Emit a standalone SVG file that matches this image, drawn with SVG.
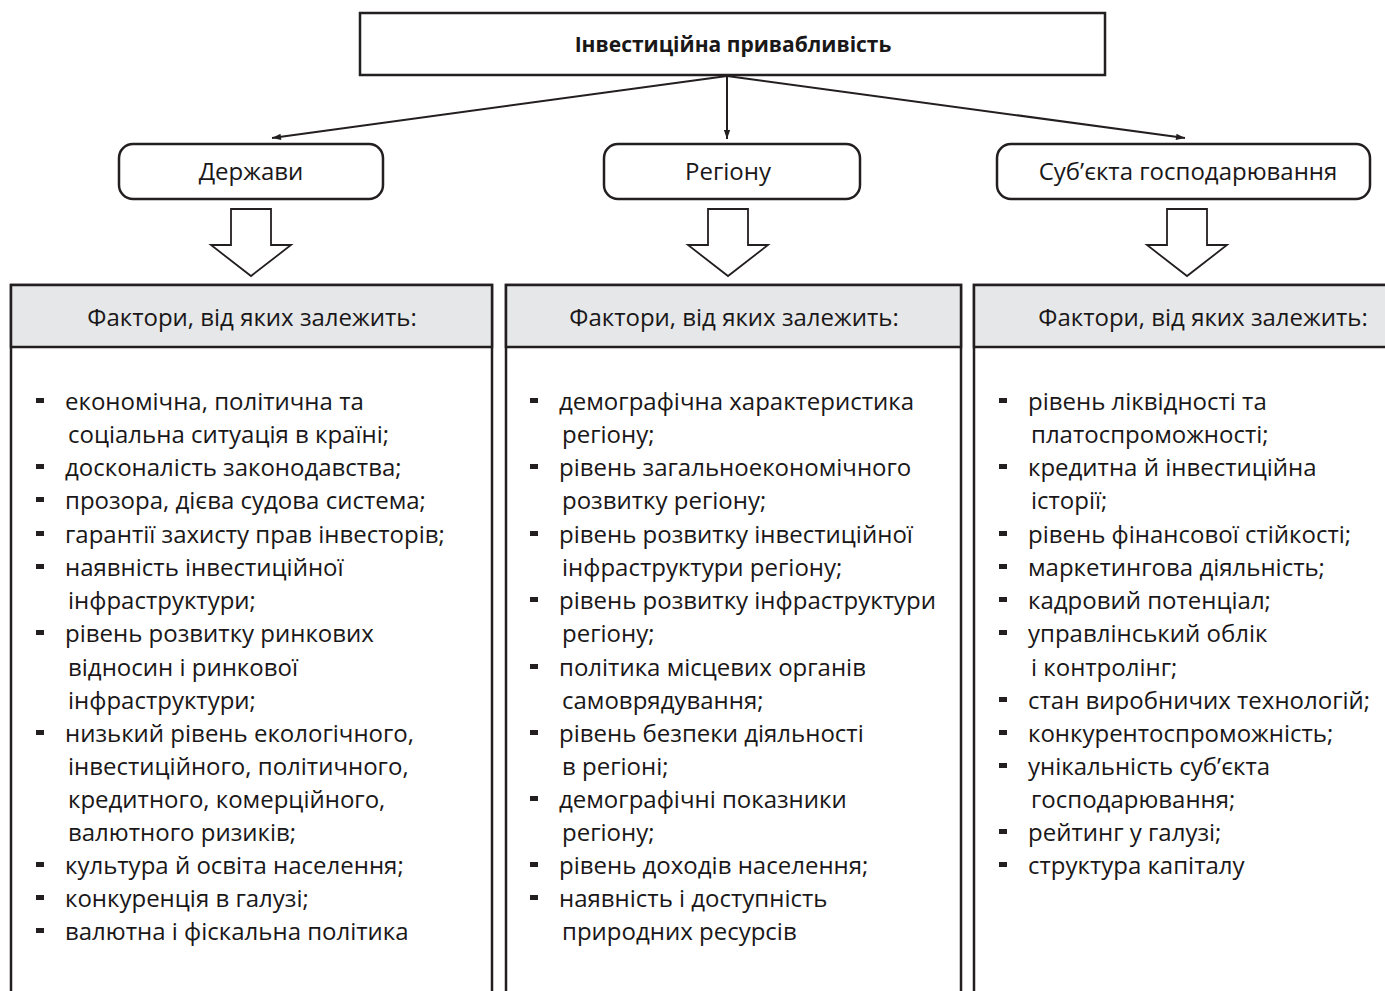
<svg xmlns="http://www.w3.org/2000/svg" width="1385" height="991" viewBox="0 0 1385 991">
<defs>
<style>
.t{font-family:"Open Sans","Noto Sans","DejaVu Sans",sans-serif;font-size:24px;fill:#1a1718}
.title{font-family:"Open Sans","Noto Sans",sans-serif;font-size:21px;font-weight:bold;fill:#1a1718}
.box{fill:#fff;stroke:#231f20;stroke-width:2.5}
.hdr{fill:#e6e7e8;stroke:#231f20;stroke-width:2.5}
.ln{stroke:#231f20;stroke-width:2;fill:none}
.ha{fill:#fff;stroke:#231f20;stroke-width:1.8}
.b{fill:#231f20}
</style>
<marker id="ah" viewBox="0 0 10 10" refX="10" refY="5" markerWidth="11" markerHeight="9" orient="auto" markerUnits="userSpaceOnUse">
<path d="M0,1.5 L10,5 L0,8.5 z" fill="#231f20"/>
</marker>
</defs>
<rect width="1385" height="991" fill="#fff"/>
<g id="top">
<rect class="box" x="360" y="13" width="745" height="62"/>
<text class="title" x="733" y="52" text-anchor="middle">Інвестиційна привабливість</text>
</g>
<g id="connectors">
<line class="ln" x1="727" y1="76" x2="272" y2="138" marker-end="url(#ah)"/>
<line class="ln" x1="727" y1="76" x2="727" y2="139" marker-end="url(#ah)"/>
<line class="ln" x1="727" y1="76" x2="1185" y2="138" marker-end="url(#ah)"/>
<path class="ha" d="M231,209 H271 V245 H291 L251,276 L211,245 H231 Z"/>
<path class="ha" d="M708,209 H748 V245 H768 L728,276 L688,245 H708 Z"/>
<path class="ha" d="M1167,209 H1207 V245 H1227 L1187,276 L1147,245 H1167 Z"/>
</g>
<g id="n-derzhavy">
<rect class="box" x="119" y="144" width="264" height="55" rx="14"/>
<text class="t" x="251" y="180" text-anchor="middle">Держави</text>
</g>
<g id="n-regionu">
<rect class="box" x="604" y="144" width="256" height="55" rx="14"/>
<text class="t" x="728" y="180" text-anchor="middle">Регіону</text>
</g>
<g id="n-subyekta">
<rect class="box" x="997" y="144" width="373" height="55" rx="14"/>
<text class="t" x="1188" y="180" text-anchor="middle">Суб’єкта господарювання</text>
</g>
<g id="col-left">
<rect class="box" x="11" y="285" width="481" height="720"/>
<rect class="hdr" x="11" y="285" width="481" height="62"/>
<text class="t" x="252" y="326" text-anchor="middle">Фактори, від яких залежить:</text>
<g class="b">
<rect x="36" y="398" width="8" height="5"/><rect x="36" y="464" width="8" height="5"/><rect x="36" y="497" width="8" height="5"/><rect x="36" y="531" width="8" height="5"/><rect x="36" y="564" width="8" height="5"/><rect x="36" y="630" width="8" height="5"/><rect x="36" y="730" width="8" height="5"/><rect x="36" y="862" width="8" height="5"/><rect x="36" y="895" width="8" height="5"/><rect x="36" y="928" width="8" height="5"/>
</g>
<text class="t" x="65" y="410">економічна, політична та</text>
<text class="t" x="68" y="443">соціальна ситуація в країні;</text>
<text class="t" x="65" y="476">досконалість законодавства;</text>
<text class="t" x="65" y="509">прозора, дієва судова система;</text>
<text class="t" x="65" y="543">гарантії захисту прав інвесторів;</text>
<text class="t" x="65" y="576">наявність інвестиційної</text>
<text class="t" x="68" y="609">інфраструктури;</text>
<text class="t" x="65" y="642">рівень розвитку ринкових</text>
<text class="t" x="68" y="676">відносин і ринкової</text>
<text class="t" x="68" y="709">інфраструктури;</text>
<text class="t" x="65" y="742">низький рівень екологічного,</text>
<text class="t" x="68" y="775">інвестиційного, політичного,</text>
<text class="t" x="68" y="808">кредитного, комерційного,</text>
<text class="t" x="68" y="841">валютного ризиків;</text>
<text class="t" x="65" y="874">культура й освіта населення;</text>
<text class="t" x="65" y="907">конкуренція в галузі;</text>
<text class="t" x="65" y="940">валютна і фіскальна політика</text>
</g>
<g id="col-middle">
<rect class="box" x="506" y="285" width="455" height="720"/>
<rect class="hdr" x="506" y="285" width="455" height="62"/>
<text class="t" x="734" y="326" text-anchor="middle">Фактори, від яких залежить:</text>
<g class="b">
<rect x="530" y="398" width="8" height="5"/><rect x="530" y="464" width="8" height="5"/><rect x="530" y="531" width="8" height="5"/><rect x="530" y="597" width="8" height="5"/><rect x="530" y="664" width="8" height="5"/><rect x="530" y="730" width="8" height="5"/><rect x="530" y="796" width="8" height="5"/><rect x="530" y="862" width="8" height="5"/><rect x="530" y="895" width="8" height="5"/>
</g>
<text class="t" x="559" y="410">демографічна характеристика</text>
<text class="t" x="562" y="443">регіону;</text>
<text class="t" x="559" y="476">рівень загальноекономічного</text>
<text class="t" x="562" y="509">розвитку регіону;</text>
<text class="t" x="559" y="543">рівень розвитку інвестиційної</text>
<text class="t" x="562" y="576">інфраструктури регіону;</text>
<text class="t" x="559" y="609">рівень розвитку інфраструктури</text>
<text class="t" x="562" y="642">регіону;</text>
<text class="t" x="559" y="676">політика місцевих органів</text>
<text class="t" x="562" y="709">самоврядування;</text>
<text class="t" x="559" y="742">рівень безпеки діяльності</text>
<text class="t" x="562" y="775">в регіоні;</text>
<text class="t" x="559" y="808">демографічні показники</text>
<text class="t" x="562" y="841">регіону;</text>
<text class="t" x="559" y="874">рівень доходів населення;</text>
<text class="t" x="559" y="907">наявність і доступність</text>
<text class="t" x="562" y="940">природних ресурсів</text>
</g>
<g id="col-right">
<rect class="box" x="974" y="285" width="430" height="720"/>
<rect class="hdr" x="974" y="285" width="430" height="62"/>
<text class="t" x="1203" y="326" text-anchor="middle">Фактори, від яких залежить:</text>
<g class="b">
<rect x="999" y="398" width="8" height="5"/><rect x="999" y="464" width="8" height="5"/><rect x="999" y="531" width="8" height="5"/><rect x="999" y="564" width="8" height="5"/><rect x="999" y="597" width="8" height="5"/><rect x="999" y="630" width="8" height="5"/><rect x="999" y="697" width="8" height="5"/><rect x="999" y="730" width="8" height="5"/><rect x="999" y="763" width="8" height="5"/><rect x="999" y="829" width="8" height="5"/><rect x="999" y="862" width="8" height="5"/>
</g>
<text class="t" x="1028" y="410">рівень ліквідності та</text>
<text class="t" x="1031" y="443">платоспроможності;</text>
<text class="t" x="1028" y="476">кредитна й інвестиційна</text>
<text class="t" x="1031" y="509">історії;</text>
<text class="t" x="1028" y="543">рівень фінансової стійкості;</text>
<text class="t" x="1028" y="576">маркетингова діяльність;</text>
<text class="t" x="1028" y="609">кадровий потенціал;</text>
<text class="t" x="1028" y="642">управлінський облік</text>
<text class="t" x="1031" y="676">і контролінг;</text>
<text class="t" x="1028" y="709">стан виробничих технологій;</text>
<text class="t" x="1028" y="742">конкурентоспроможність;</text>
<text class="t" x="1028" y="775">унікальність суб’єкта</text>
<text class="t" x="1031" y="808">господарювання;</text>
<text class="t" x="1028" y="841">рейтинг у галузі;</text>
<text class="t" x="1028" y="874">структура капіталу</text>
</g>
</svg>
